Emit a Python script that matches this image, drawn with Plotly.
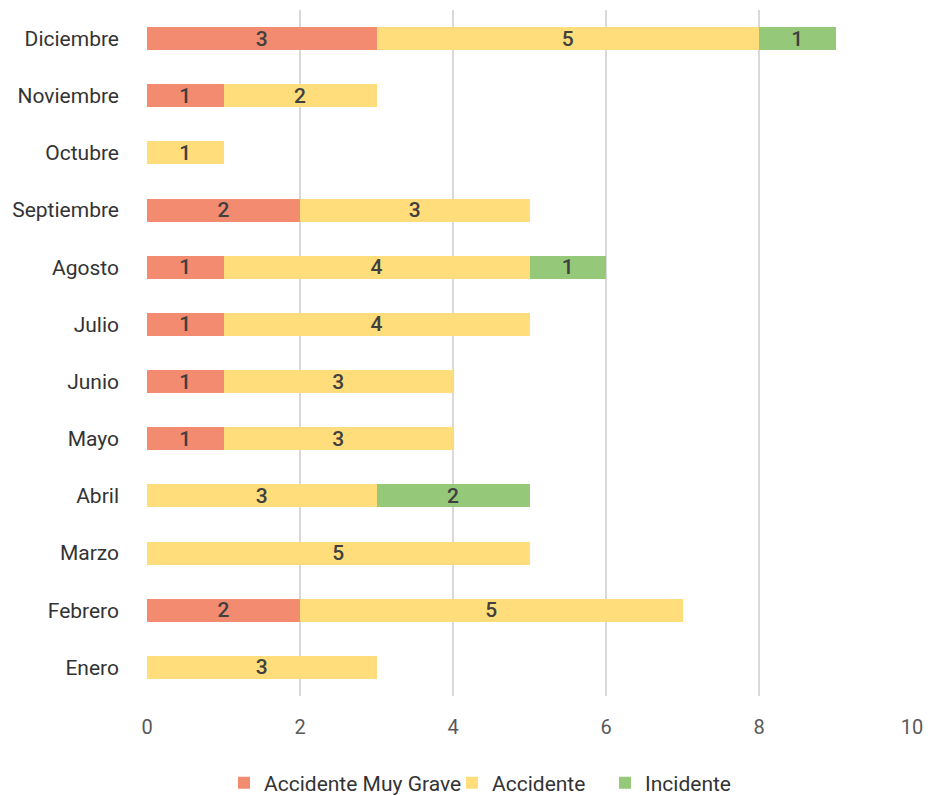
import plotly.graph_objects as go

months = ["Enero", "Febrero", "Marzo", "Abril", "Mayo", "Junio", "Julio",
          "Agosto", "Septiembre", "Octubre", "Noviembre", "Diciembre"]
muy_grave = [None, 2, None, None, 1, 1, 1, 1, 2, None, 1, 3]
accidente = [3, 5, 5, 3, 3, 3, 4, 4, 3, 1, 2, 5]
incidente = [None, None, None, 2, None, None, None, 1, None, None, None, 1]

series = [
    ("Accidente Muy Grave", muy_grave, "#F28B70", "legend2"),
    ("Accidente", accidente, "#FFDD7A", "legend3"),
    ("Incidente", incidente, "#95C878", "legend4"),
]

fig = go.Figure()
for name, vals, color, lg in series:
    fig.add_trace(go.Bar(
        y=months, x=vals, name=name, orientation="h",
        marker=dict(color=color, line=dict(width=0)),
        text=vals, texttemplate="%{x}", textposition="inside",
        insidetextanchor="middle", textangle=0,
        textfont=dict(family="Roboto", size=21, color="#404040", weight=500),
        legend=lg, showlegend=True,
    ))

W, H = 928, 796
leg_common = dict(orientation="h", yref="container", xref="container",
                  y=(H - 783) / H, yanchor="middle", xanchor="left",
                  font=dict(family="Roboto", size=21, color="#333333"),
                  bgcolor="rgba(0,0,0,0)", itemwidth=30, visible=True)

fig.update_layout(
    barmode="stack",
    bargap=0.6,
    showlegend=True,
    width=W, height=H,
    margin=dict(l=147, r=16, t=10, b=100, autoexpand=False),
    plot_bgcolor="white", paper_bgcolor="white",
    font=dict(family="Roboto", size=21, color="#333333"),
    xaxis=dict(range=[0, 10], dtick=2, showgrid=True, gridcolor="#D9D9D9",
               gridwidth=2, zeroline=False, ticks="", ticklabelstandoff=17,
               automargin=False,
               tickfont=dict(size=20, color="#595959")),
    yaxis=dict(categoryorder="array", categoryarray=months, ticks="",
               ticklabelstandoff=27, tickfont=dict(size=21, color="#333333"),
               showgrid=False, automargin=False),
    legend2=dict(x=224 / W, **leg_common),
    legend3=dict(x=452 / W, **leg_common),
    legend4=dict(x=605 / W, **leg_common),
    uniformtext=dict(mode="show", minsize=21),
)

fig.write_html("out.html", config={"displayModeBar": False},
               post_script="document.body.style.margin='0';document.body.style.overflow='hidden';")
